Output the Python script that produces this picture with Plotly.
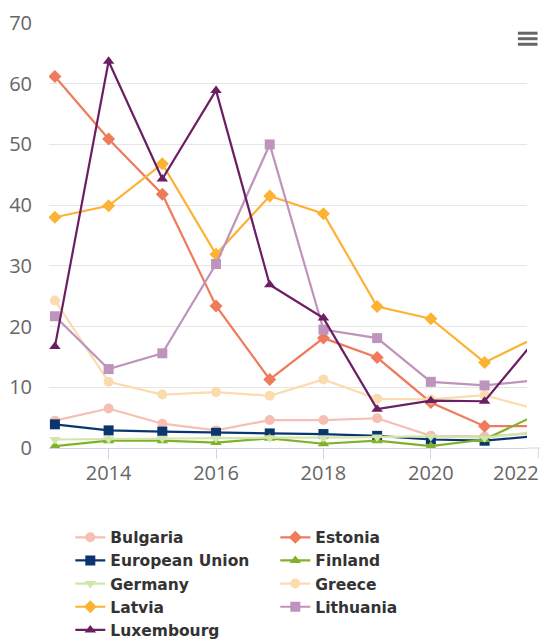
import plotly.graph_objects as go

years = [2013, 2014, 2015, 2016, 2017, 2018, 2019, 2020, 2021, 2022]

bulgaria = [4.5, 6.5, 4.0, 2.9, 4.6, 4.6, 4.9, 2.0, 1.9, 2.5]
estonia = [61.2, 50.9, 41.8, 23.4, 11.3, 18.1, 14.9, 7.5, 3.6, 3.6]
european_union = [3.9, 2.9, 2.7, 2.5, 2.4, 2.3, 2.0, 1.4, 1.2, 2.0]
finland = [0.3, 1.2, 1.2, 0.9, 1.6, 0.7, 1.2, 0.3, 1.4, 5.6]
germany = [1.4, 1.5, 1.6, 1.6, 1.7, 1.7, 1.8, 1.9, 1.7, 2.7]
greece = [24.3, 10.9, 8.8, 9.2, 8.6, 11.3, 8.1, 8.0, 8.7, 6.3]
latvia = [38.0, 39.9, 46.8, 31.9, 41.5, 38.6, 23.3, 21.3, 14.1, 18.4]
lithuania = [21.7, 13.0, 15.6, 30.3, 50.0, 19.5, 18.1, 10.9, 10.3, 11.2]
luxembourg = [16.7, 63.7, 44.3, 58.9, 26.9, 21.4, 6.4, 7.8, 7.7, 18.4]

x_tick_years = [2014, 2016, 2018, 2020, 2022]
y_ticks = [0, 10, 20, 30, 40, 50, 60, 70]

series = [
    ("Bulgaria", bulgaria, "#f5bfb3", "circle"),
    ("Estonia", estonia, "#ef7b5c", "diamond"),
    ("European Union", european_union, "#0a3670", "square"),
    ("Finland", finland, "#7fb22a", "triangle-up"),
    ("Germany", germany, "#d2e5aa", "triangle-down"),
    ("Greece", greece, "#fbdcae", "circle"),
    ("Latvia", latvia, "#fcb232", "diamond"),
    ("Lithuania", lithuania, "#be94bc", "square"),
    ("Luxembourg", luxembourg, "#6b1e62", "triangle-up"),
]

# plot-area geometry (Highcharts-like: the series are clipped a bit before the last tick)
X_START, X_END = 2012.89, 2021.79
DOMAIN_END = 0.9735


def x_to_paper(v):
    return (v - X_START) / (X_END - X_START) * DOMAIN_END


fig = go.Figure()
for name, vals, color, sym in series:
    fig.add_trace(go.Scatter(
        x=years, y=vals, name=name, mode="lines+markers",
        line=dict(color=color, width=2.2),
        marker=dict(color=color, symbol=sym, size=10),
        cliponaxis=True,
    ))

# axis line continues past the clipped plot area, with the last tick
last_tick = x_to_paper(x_tick_years[-1])
fig.add_shape(type="line", xref="paper", yref="paper",
              x0=DOMAIN_END, x1=last_tick + 0.004, y0=0, y1=0,
              line=dict(color="#ccd6eb", width=1))
fig.add_shape(type="line", xref="paper", yref="paper", ysizemode="pixel",
              yanchor=0, x0=last_tick, x1=last_tick, y0=0, y1=-10,
              line=dict(color="#ccd6eb", width=1))
fig.add_annotation(x=last_tick, y=0, xref="paper", yref="paper",
                   text=str(x_tick_years[-1]), showarrow=False,
                   xanchor="right", yanchor="top", xshift=3, yshift=-9,
                   font=dict(family="Open Sans", size=20, color="#666666"))

# menu icon (decorative)
for yy in (0.976, 0.963, 0.950):
    fig.add_shape(type="line", xref="paper", yref="paper",
                  x0=0.955, x1=0.995, y0=yy, y1=yy,
                  line=dict(color="#666666", width=3))

fig.update_layout(
    width=545, height=640,
    margin=dict(l=49, r=5, t=23, b=192),
    paper_bgcolor="white", plot_bgcolor="white",
    font=dict(family="Open Sans", color="#666666"),
    showlegend=True,
    legend=dict(
        orientation="h", xref="container", yref="container",
        x=0.129, y=0.1864, xanchor="left", yanchor="top",
        entrywidth=160, entrywidthmode="pixels",
        font=dict(family="DejaVu Sans", size=15.5, color="#333333", weight="bold"),
        tracegroupgap=0, itemwidth=30,
    ),
    xaxis=dict(
        domain=[0, DOMAIN_END],
        range=[X_START, X_END], tickvals=x_tick_years[:-1],
        showgrid=False, showline=True, linecolor="#ccd6eb", linewidth=1,
        ticks="outside", ticklen=10, tickcolor="#ccd6eb",
        tickfont=dict(size=20, color="#666666"), zeroline=False,
        automargin=False, ticklabelstandoff=-3,
    ),
    yaxis=dict(
        range=[0, 70], tickvals=y_ticks,
        showgrid=True, gridcolor="#e6e6e6", gridwidth=1, zeroline=False,
        showline=False, tickfont=dict(size=20, color="#666666"),
        ticklabelstandoff=16, automargin=False,
    ),
)

fig.write_html("out.html", config={"displayModeBar": False},
               post_script="document.body.style.margin='0';")
